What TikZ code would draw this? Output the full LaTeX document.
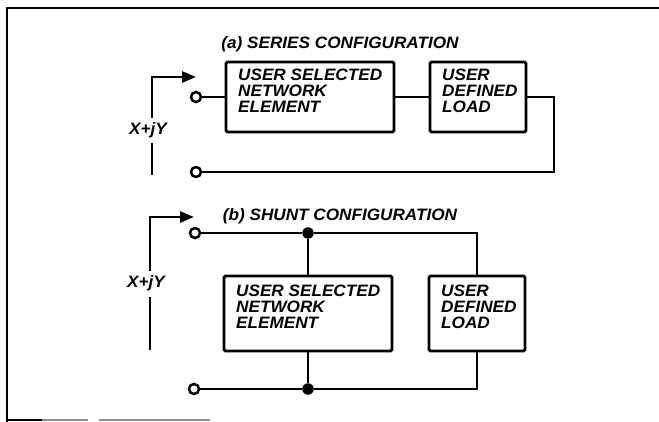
\documentclass[tikz,border=0pt]{standalone}
\usepackage{fontspec}
\newfontfamily\labfont{Liberation Sans}[FakeStretch=1.04]
\usetikzlibrary{arrows.meta}
\begin{document}
\begin{tikzpicture}[x=1pt,y=-1pt,
  wire/.style={line width=2.6pt},
  blk/.style={draw, line width=2.9pt, rounded corners=1.5pt, minimum width=#1, inner sep=0pt, outer sep=0pt},
  txt/.style={font=\labfont\bfseries\itshape\fontsize{16.5}{16}\selectfont, align=left, inner sep=0pt},
  term/.style={circle, draw, line width=2.5pt, minimum size=10pt, inner sep=0pt, fill=white},
  jdot/.style={circle, fill, minimum size=11.5pt, inner sep=0pt},
  feed/.style={line width=2.6pt, -{Triangle[length=14pt,width=11pt]}}
]
\useasboundingbox (0,0) rectangle (659,422);
% frame
\draw[line width=2.6pt] (7,422) -- (7,8) -- (659,8);
\draw[line width=2.4pt] (7,420) -- (42,420);
\draw[line width=2pt, black!45] (42,420) -- (88,420) (99,420) -- (210,420);

% ---------------- (a) series ----------------
\node[txt] (ta) at (340,44) {(a) SERIES CONFIGURATION};
\node[blk=168pt, minimum height=70pt] (ne1) at (310,97) {};
\node[blk=96pt, minimum height=70pt] (ld1) at (478,97) {};
\node[txt, anchor=north west] (ne1t) at ([xshift=12pt,yshift=-7pt]ne1.north west) {USER SELECTED\\NETWORK\\ELEMENT};
\node[txt, anchor=north west] (ld1t) at ([xshift=12pt,yshift=-7pt]ld1.north west) {USER\\DEFINED\\LOAD};
\node[term] (a1) at (196,97) {};
\node[term] (a2) at (196,172) {};
\coordinate (ac1) at (554,97);
\coordinate (ac2) at (554,172);
\draw[wire] (a1) -- (ne1.west);
\draw[wire] (ne1.east) -- (ld1.west);
\draw[wire] (ld1.east) -- (ac1) -- (ac2) -- (a2);
\node[txt] (xa) at (148,130) {X+jY};
\coordinate (xa1) at (152,118);
\coordinate (xa2) at (152,77);
\coordinate (xa3) at (196,77);
\coordinate (xa4) at (152,143);
\coordinate (xa5) at (152,175);
\draw[feed] (xa1) -- (xa2) -- (xa3);
\draw[line width=2.6pt] (xa4) -- (xa5);

% ---------------- (b) shunt ----------------
\node[txt] (tb) at (340,216) {(b) SHUNT CONFIGURATION};
\node[blk=168pt, minimum height=75pt] (ne2) at (308,313.5) {};
\node[blk=96pt, minimum height=75pt] (ld2) at (477,313.5) {};
\node[txt, anchor=north west] (ne2t) at ([xshift=12pt,yshift=-9pt]ne2.north west) {USER SELECTED\\NETWORK\\ELEMENT};
\node[txt, anchor=north west] (ld2t) at ([xshift=12pt,yshift=-9pt]ld2.north west) {USER\\DEFINED\\LOAD};
\node[term] (b1) at (195,233) {};
\node[term] (b2) at (194,389) {};
\node[jdot] (j1) at (308,233) {};
\node[jdot] (j2) at (308,389) {};
\coordinate (bc1) at (477,233);
\coordinate (bc2) at (477,389);
\draw[wire] (b1) -- (j1) -- (bc1) -- (ld2.north);
\draw[wire] (j1) -- (ne2.north);
\draw[wire] (b2) -- (j2) -- (bc2) -- (ld2.south);
\draw[wire] (ne2.south) -- (j2);
\node[txt] (xb) at (146,283) {X+jY};
\coordinate (xb1) at (150,271);
\coordinate (xb2) at (150,217);
\coordinate (xb3) at (194,217);
\coordinate (xb4) at (150,297);
\coordinate (xb5) at (150,350);
\draw[feed] (xb1) -- (xb2) -- (xb3);
\draw[line width=2.6pt] (xb4) -- (xb5);
\end{tikzpicture}
\end{document}
